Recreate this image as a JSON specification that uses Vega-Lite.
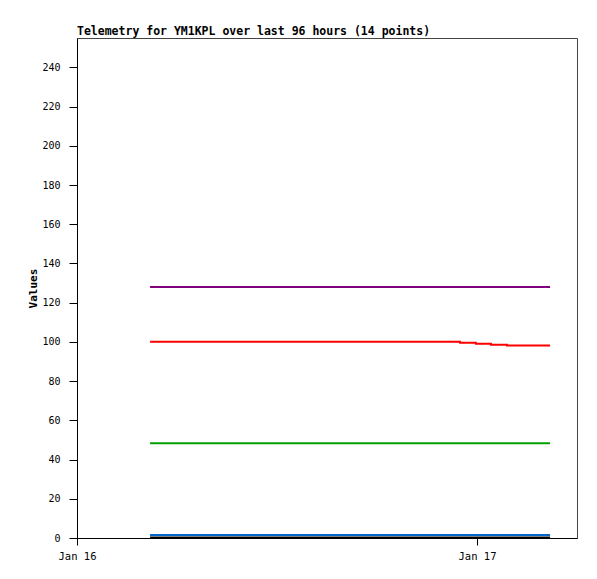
{
  "$schema": "https://vega.github.io/schema/vega-lite/v6.json",
  "width": 500,
  "height": 500,
  "autosize": "none",
  "padding": {"left": 77, "top": 38, "right": 20, "bottom": 41},
  "background": "white",
  "config": {
    "view": {"stroke": "#444", "strokeWidth": 1},
    "font": "DejaVu Sans Mono"
  },
  "title": {
    "text": "Telemetry for YM1KPL over last 96 hours (14 points)",
    "anchor": "start",
    "frame": "group",
    "font": "DejaVu Sans Mono",
    "fontSize": 11.5,
    "fontWeight": "bold",
    "color": "#000",
    "baseline": "alphabetic",
    "offset": -8
  },
  "data": {
    "values": [
      {"t": "2024-01-16T04:23:00Z", "series": "A", "value": 128},
      {"t": "2024-01-16T06:20:00Z", "series": "A", "value": 128},
      {"t": "2024-01-16T08:20:00Z", "series": "A", "value": 128},
      {"t": "2024-01-16T10:20:00Z", "series": "A", "value": 128},
      {"t": "2024-01-16T12:20:00Z", "series": "A", "value": 128},
      {"t": "2024-01-16T14:20:00Z", "series": "A", "value": 128},
      {"t": "2024-01-16T16:20:00Z", "series": "A", "value": 128},
      {"t": "2024-01-16T18:20:00Z", "series": "A", "value": 128},
      {"t": "2024-01-16T20:20:00Z", "series": "A", "value": 128},
      {"t": "2024-01-16T22:59:00Z", "series": "A", "value": 128},
      {"t": "2024-01-16T23:56:00Z", "series": "A", "value": 128},
      {"t": "2024-01-17T00:50:00Z", "series": "A", "value": 128},
      {"t": "2024-01-17T01:48:00Z", "series": "A", "value": 128},
      {"t": "2024-01-17T04:23:00Z", "series": "A", "value": 128},

      {"t": "2024-01-16T04:23:00Z", "series": "B", "value": 100.1},
      {"t": "2024-01-16T06:20:00Z", "series": "B", "value": 100.1},
      {"t": "2024-01-16T08:20:00Z", "series": "B", "value": 100.1},
      {"t": "2024-01-16T10:20:00Z", "series": "B", "value": 100.1},
      {"t": "2024-01-16T12:20:00Z", "series": "B", "value": 100.1},
      {"t": "2024-01-16T14:20:00Z", "series": "B", "value": 100.1},
      {"t": "2024-01-16T16:20:00Z", "series": "B", "value": 100.1},
      {"t": "2024-01-16T18:20:00Z", "series": "B", "value": 100.1},
      {"t": "2024-01-16T20:20:00Z", "series": "B", "value": 100.1},
      {"t": "2024-01-16T22:59:00Z", "series": "B", "value": 99.6},
      {"t": "2024-01-16T23:56:00Z", "series": "B", "value": 99.1},
      {"t": "2024-01-17T00:50:00Z", "series": "B", "value": 98.6},
      {"t": "2024-01-17T01:48:00Z", "series": "B", "value": 98.2},
      {"t": "2024-01-17T04:23:00Z", "series": "B", "value": 98.2},

      {"t": "2024-01-16T04:23:00Z", "series": "C", "value": 48.3},
      {"t": "2024-01-16T06:20:00Z", "series": "C", "value": 48.3},
      {"t": "2024-01-16T08:20:00Z", "series": "C", "value": 48.3},
      {"t": "2024-01-16T10:20:00Z", "series": "C", "value": 48.3},
      {"t": "2024-01-16T12:20:00Z", "series": "C", "value": 48.3},
      {"t": "2024-01-16T14:20:00Z", "series": "C", "value": 48.3},
      {"t": "2024-01-16T16:20:00Z", "series": "C", "value": 48.3},
      {"t": "2024-01-16T18:20:00Z", "series": "C", "value": 48.3},
      {"t": "2024-01-16T20:20:00Z", "series": "C", "value": 48.3},
      {"t": "2024-01-16T22:59:00Z", "series": "C", "value": 48.3},
      {"t": "2024-01-16T23:56:00Z", "series": "C", "value": 48.3},
      {"t": "2024-01-17T00:50:00Z", "series": "C", "value": 48.3},
      {"t": "2024-01-17T01:48:00Z", "series": "C", "value": 48.3},
      {"t": "2024-01-17T04:23:00Z", "series": "C", "value": 48.3},

      {"t": "2024-01-16T04:23:00Z", "series": "D", "value": 1.5},
      {"t": "2024-01-16T06:20:00Z", "series": "D", "value": 1.5},
      {"t": "2024-01-16T08:20:00Z", "series": "D", "value": 1.5},
      {"t": "2024-01-16T10:20:00Z", "series": "D", "value": 1.5},
      {"t": "2024-01-16T12:20:00Z", "series": "D", "value": 1.5},
      {"t": "2024-01-16T14:20:00Z", "series": "D", "value": 1.5},
      {"t": "2024-01-16T16:20:00Z", "series": "D", "value": 1.5},
      {"t": "2024-01-16T18:20:00Z", "series": "D", "value": 1.5},
      {"t": "2024-01-16T20:20:00Z", "series": "D", "value": 1.5},
      {"t": "2024-01-16T22:59:00Z", "series": "D", "value": 1.5},
      {"t": "2024-01-16T23:56:00Z", "series": "D", "value": 1.5},
      {"t": "2024-01-17T00:50:00Z", "series": "D", "value": 1.5},
      {"t": "2024-01-17T01:48:00Z", "series": "D", "value": 1.5},
      {"t": "2024-01-17T04:23:00Z", "series": "D", "value": 1.5},

      {"t": "2024-01-16T04:23:00Z", "series": "E", "value": 0.2},
      {"t": "2024-01-16T06:20:00Z", "series": "E", "value": 0.2},
      {"t": "2024-01-16T08:20:00Z", "series": "E", "value": 0.2},
      {"t": "2024-01-16T10:20:00Z", "series": "E", "value": 0.2},
      {"t": "2024-01-16T12:20:00Z", "series": "E", "value": 0.2},
      {"t": "2024-01-16T14:20:00Z", "series": "E", "value": 0.2},
      {"t": "2024-01-16T16:20:00Z", "series": "E", "value": 0.2},
      {"t": "2024-01-16T18:20:00Z", "series": "E", "value": 0.2},
      {"t": "2024-01-16T20:20:00Z", "series": "E", "value": 0.2},
      {"t": "2024-01-16T22:59:00Z", "series": "E", "value": 0.2},
      {"t": "2024-01-16T23:56:00Z", "series": "E", "value": 0.2},
      {"t": "2024-01-17T00:50:00Z", "series": "E", "value": 0.2},
      {"t": "2024-01-17T01:48:00Z", "series": "E", "value": 0.2},
      {"t": "2024-01-17T04:23:00Z", "series": "E", "value": 0.2}
    ]
  },
  "mark": {"type": "line", "interpolate": "step-after", "strokeWidth": 2, "clip": true},
  "encoding": {
    "x": {
      "field": "t",
      "type": "temporal",
      "scale": {"type": "utc", "domain": ["2024-01-16T00:00:00Z", "2024-01-17T06:00:00Z"], "nice": false},
      "axis": {
        "title": null,
        "grid": false,
        "values": ["2024-01-16T00:00:00Z", "2024-01-17T00:00:00Z"],
        "labelExpr": "utcFormat(datum.value, '%b %d')",
        "domainColor": "#000",
        "domainWidth": 1,
        "tickColor": "#000",
        "tickSize": 7,
        "labelFont": "DejaVu Sans Mono",
        "labelFontSize": 10.5,
        "labelColor": "#000",
        "labelPadding": 6,
        "labelFlush": false
      }
    },
    "y": {
      "field": "value",
      "type": "quantitative",
      "scale": {"domain": [0, 255], "nice": false, "zero": true},
      "axis": {
        "title": "Values",
        "titleFont": "DejaVu Sans Mono",
        "titleFontSize": 11,
        "titleFontWeight": "bold",
        "titleColor": "#000",
        "titlePadding": 3,
        "grid": false,
        "values": [0, 20, 40, 60, 80, 100, 120, 140, 160, 180, 200, 220, 240],
        "domainColor": "#000",
        "tickColor": "#000",
        "tickSize": 8,
        "labelFont": "DejaVu Sans Mono",
        "labelFontSize": 10,
        "labelColor": "#000",
        "labelPadding": 9
      }
    },
    "color": {
      "field": "series",
      "type": "nominal",
      "scale": {"domain": ["A", "B", "C", "D", "E"], "range": ["#800080", "#ff0000", "#00a000", "#0066cc", "#000000"]},
      "legend": null
    }
  }
}
